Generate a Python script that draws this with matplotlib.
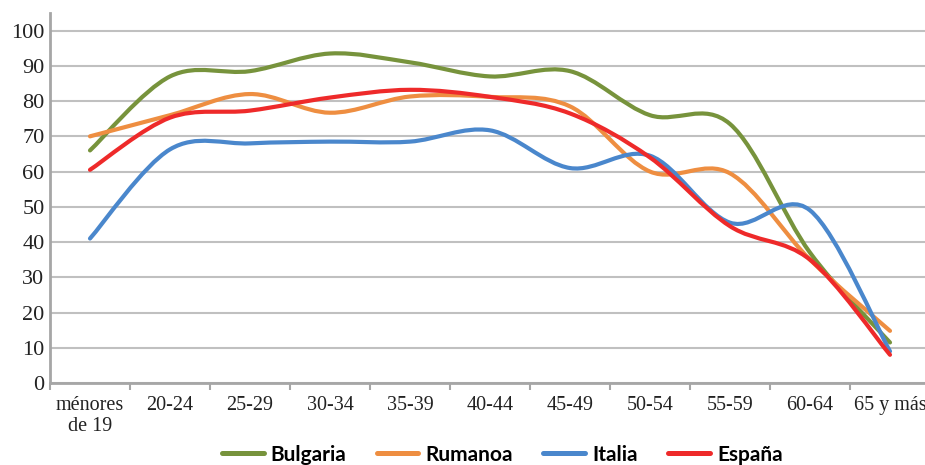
import numpy as np
import matplotlib
matplotlib.use("Agg")
import matplotlib.pyplot as plt
from matplotlib.path import Path
from matplotlib.patches import PathPatch
from matplotlib.lines import Line2D

# Datos
categorias = ["ménores\nde 19", "20-24", "25-29", "30-34", "35-39", "40-44",
              "45-49", "50-54", "55-59", "60-64", "65 y más"]
bulgaria = [66, 87, 88.5, 93.5, 91, 87, 88.5, 76, 73.5, 37, 11.5]
rumanoa = [70, 76, 82, 76.7, 81.3, 81.2, 78.5, 60, 59.5, 35, 14.8]
italia = [41, 66.3, 68, 68.5, 68.5, 71.7, 61, 64.5, 45.5, 49, 9]
espana = [60.5, 75.3, 77.3, 81, 83.2, 81.2, 76.5, 64, 44.5, 35, 8]

series = [("Bulgaria", bulgaria, "#77933C"),
          ("Rumanoa", rumanoa, "#EE8E41"),
          ("Italia", italia, "#4A87CC"),
          ("España", espana, "#EE2A2A")]


# Curva suavizada tipo Excel (Bezier cubica)
def smooth_path(xs, ys):
    pts = np.column_stack([xs, ys]).astype(float)
    n = len(pts)
    verts = [pts[0]]
    codes = [Path.MOVETO]
    for i in range(n - 1):
        p0 = pts[i - 1] if i > 0 else pts[i]
        p1 = pts[i]
        p2 = pts[i + 1]
        p3 = pts[i + 2] if i + 2 < n else pts[i + 1]
        c1 = p1 + (p2 - p0) / 6.0
        c2 = p2 - (p3 - p1) / 6.0
        verts += [c1, c2, p2]
        codes += [Path.CURVE4] * 3
    return Path(verts, codes)


fig = plt.figure(figsize=(9.25, 4.65), dpi=100)
ax = fig.add_axes([50 / 925, 82 / 465, 880 / 925, 370 / 465])

x = np.arange(len(categorias))
handles = []
for nombre, vals, color in series:
    patch = PathPatch(smooth_path(x, vals), fill=False, edgecolor=color,
                      lw=3.0, capstyle="round", joinstyle="round", zorder=3)
    ax.add_patch(patch)
    handles.append(Line2D([], [], color=color, lw=3.6, solid_capstyle="round"))

ax.set_xlim(-0.5, len(categorias) - 0.5)
ax.set_ylim(0, 105)
ax.set_yticks(np.arange(0, 101, 10))
ax.set_xticks(x)
ax.set_xticklabels(categorias, family="Liberation Serif", fontsize=14.5,
                   color="#222222", linespacing=1.2)
ax.set_xticks(np.arange(-0.5, len(categorias), 1), minor=True)
for lab in ax.get_yticklabels():
    lab.set_family("Liberation Serif")
    lab.set_fontsize(16)
    lab.set_color("#222222")

ax.tick_params(axis="x", which="major", length=0, pad=9)
ax.tick_params(axis="x", which="minor", length=5, width=1.5, color="#a6a6a6")
ax.tick_params(axis="y", length=0, pad=4)

ax.grid(axis="y", color="#c0c0c0", lw=1.5)
ax.set_axisbelow(True)
for s in ["top", "right"]:
    ax.spines[s].set_visible(False)
for s in ["left", "bottom"]:
    ax.spines[s].set_color("#a6a6a6")
    ax.spines[s].set_linewidth(2)

fig.legend(handles, [s[0] for s in series], loc="center",
           bbox_to_anchor=(0.543, 0.022), ncol=4, frameon=False,
           prop={"family": "Lato", "weight": "bold", "size": 15},
           handlelength=2.0, handletextpad=0.35, columnspacing=1.45)

fig.savefig("out.png", dpi=100)
